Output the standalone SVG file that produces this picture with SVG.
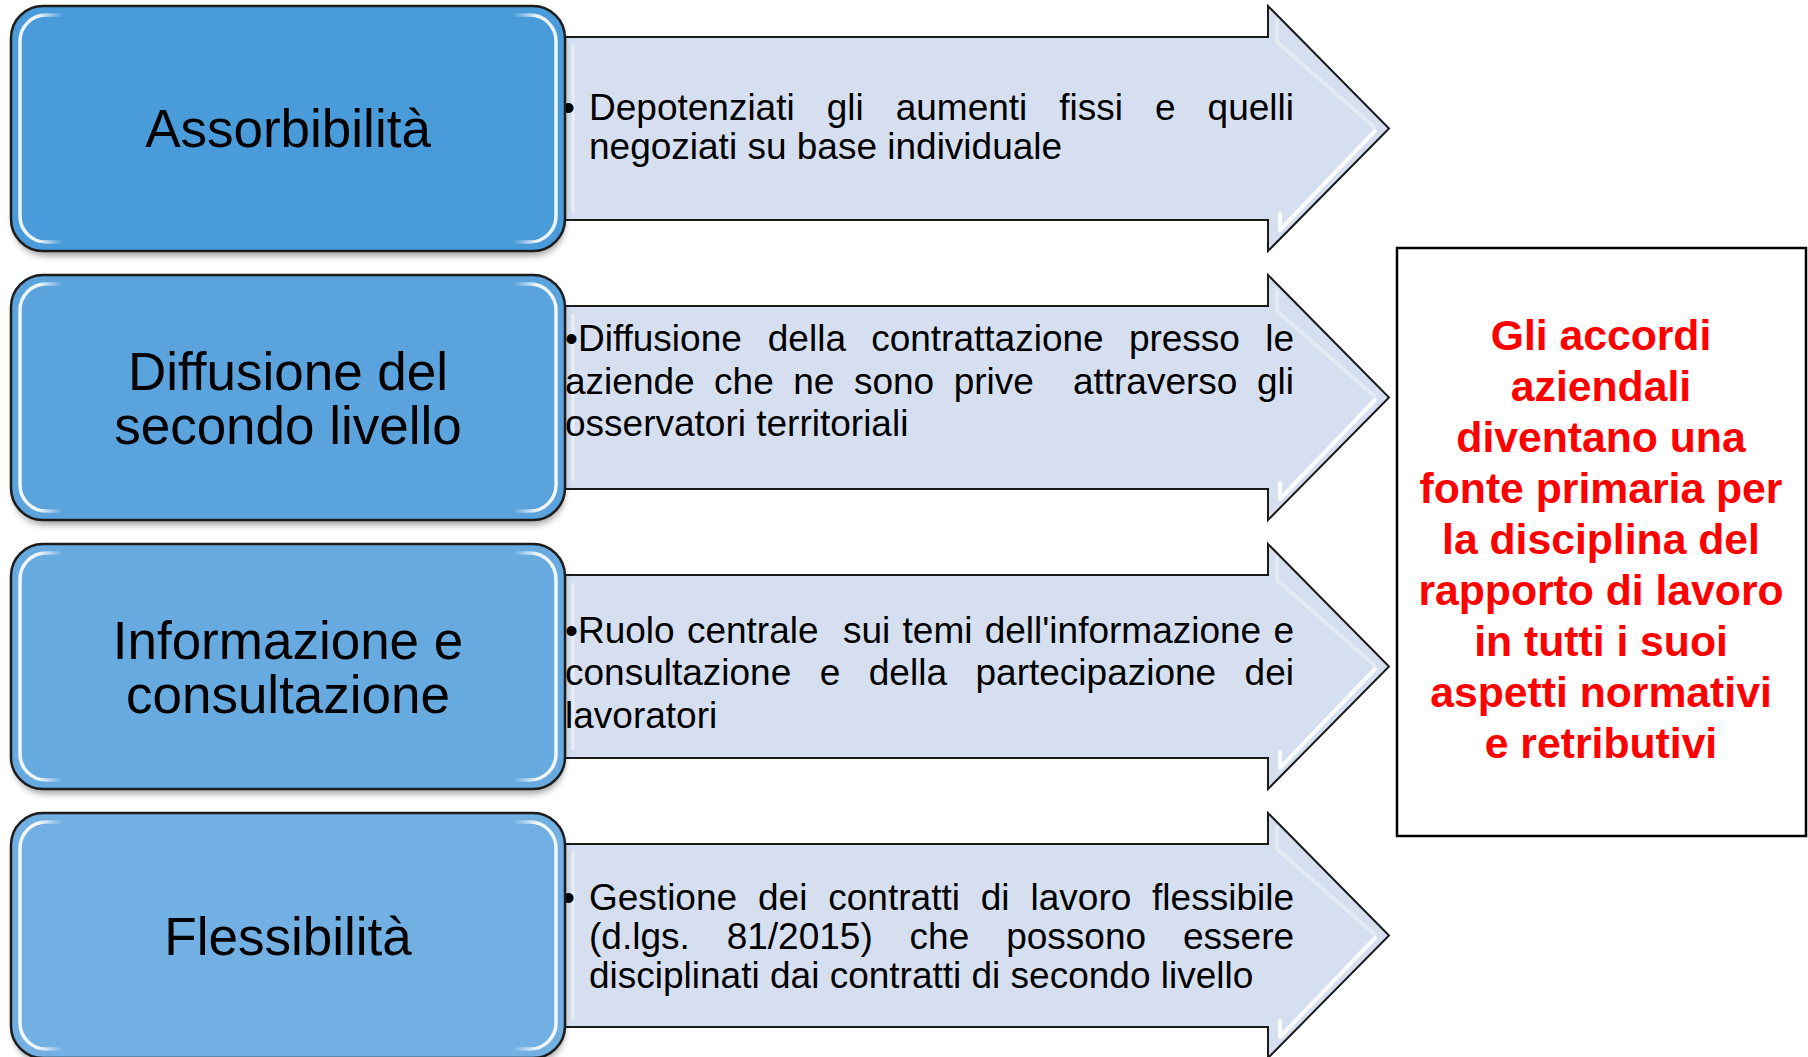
<svg xmlns="http://www.w3.org/2000/svg" width="1808" height="1057" viewBox="0 0 1808 1057">
<defs>
<style>
.arr{fill:#D5DFEF;stroke:#1a1a1a;stroke-width:2}
.ahl{fill:none;stroke:#ffffff;stroke-width:4;stroke-linejoin:round;stroke-linecap:round}
.box{stroke:#1c1c1c;stroke-width:2.5}
.bhl{fill:none;stroke:url(#hl);stroke-width:3.5}
.shd{fill:#000;fill-opacity:0.35;filter:url(#blur)}
.lbl{font-family:"Liberation Sans",Arial,sans-serif;font-size:53px;fill:#000;text-anchor:middle}
.txt{font-family:"Liberation Sans",Arial,sans-serif;font-size:37px;fill:#000}
.red{font-family:"Liberation Sans",Arial,sans-serif;font-weight:bold;font-size:42.7px;fill:#FF0000;text-anchor:middle}
</style>
<linearGradient id="hl" x1="0" y1="0" x2="1" y2="0">
<stop offset="0" stop-color="#fff" stop-opacity="0.9"/>
<stop offset="0.035" stop-color="#fff" stop-opacity="0.9"/>
<stop offset="0.08" stop-color="#fff" stop-opacity="0"/>
<stop offset="0.92" stop-color="#fff" stop-opacity="0"/>
<stop offset="0.965" stop-color="#fff" stop-opacity="0.9"/>
<stop offset="1" stop-color="#fff" stop-opacity="0.9"/>
</linearGradient>
<filter id="blur" x="-10%" y="-10%" width="120%" height="130%"><feGaussianBlur stdDeviation="3"/></filter>
</defs>
<rect width="1808" height="1057" fill="#ffffff"/>

<g id="connectors"></g>

<!-- Arrows -->
<g id="arrow-assorbibilita">
<path class="arr" d="M540,37 H1268 V6 L1389,128.5 L1268,251 V220 H540 Z"/>
<path class="ahl" stroke-opacity="0.35" d="M1277,20 V42 L1374,127"/>
<path class="ahl" stroke-opacity="0.9" d="M1375,131 L1280,230 V214"/>
<line x1="573" y1="45" x2="573" y2="212" stroke="#fff" stroke-opacity="0.5" stroke-width="3"/>
<text class="txt"><tspan x="562" y="120">•</tspan><tspan x="589" y="120">Depotenziati</tspan><tspan x="826.7" y="120">gli</tspan><tspan x="895.7" y="120">aumenti</tspan><tspan x="1059.3" y="120">fissi</tspan><tspan x="1155" y="120">e</tspan><tspan x="1207.6" y="120">quelli</tspan><tspan x="589" y="159">negoziati su base individuale</tspan></text>
</g>

<g id="arrow-diffusione">
<path class="arr" d="M540,306 H1268 V275 L1389,397.5 L1268,520 V489 H540 Z"/>
<path class="ahl" stroke-opacity="0.35" d="M1277,289 V311 L1374,396"/>
<path class="ahl" stroke-opacity="0.9" d="M1375,400 L1280,499 V483"/>
<line x1="573" y1="314" x2="573" y2="481" stroke="#fff" stroke-opacity="0.5" stroke-width="3"/>
<text class="txt"><tspan x="565" y="351">•Diffusione</tspan><tspan x="767.8" y="351">della</tspan><tspan x="871.2" y="351">contrattazione</tspan><tspan x="1128.9" y="351">presso</tspan><tspan x="1265.2" y="351">le</tspan><tspan x="565" y="393.5">aziende</tspan><tspan x="714.1" y="393.5">che</tspan><tspan x="793.3" y="393.5">ne</tspan><tspan x="853.9" y="393.5">sono</tspan><tspan x="953.7" y="393.5">prive</tspan><tspan x="1072.9" y="393.5">attraverso</tspan><tspan x="1257" y="393.5">gli</tspan><tspan x="565" y="436">osservatori territoriali</tspan></text>
</g>

<g id="arrow-informazione">
<path class="arr" d="M540,575 H1268 V544 L1389,666.5 L1268,789 V758 H540 Z"/>
<path class="ahl" stroke-opacity="0.35" d="M1277,558 V580 L1374,665"/>
<path class="ahl" stroke-opacity="0.9" d="M1375,669 L1280,768 V752"/>
<line x1="573" y1="583" x2="573" y2="750" stroke="#fff" stroke-opacity="0.5" stroke-width="3"/>
<text class="txt"><tspan x="565" y="643">•Ruolo</tspan><tspan x="686.9" y="643">centrale</tspan><tspan x="843" y="643">sui</tspan><tspan x="902.6" y="643">temi</tspan><tspan x="984.7" y="643">dell'informazione</tspan><tspan x="1273.4" y="643">e</tspan><tspan x="565" y="685">consultazione</tspan><tspan x="819.7" y="685">e</tspan><tspan x="868.8" y="685">della</tspan><tspan x="975.5" y="685">partecipazione</tspan><tspan x="1244.6" y="685">dei</tspan><tspan x="565" y="728">lavoratori</tspan></text>
</g>

<g id="arrow-flessibilita">
<path class="arr" d="M540,844 H1268 V813 L1389,935.5 L1268,1058 V1027 H540 Z"/>
<path class="ahl" stroke-opacity="0.35" d="M1277,827 V849 L1374,934"/>
<path class="ahl" stroke-opacity="0.9" d="M1375,938 L1280,1037 V1021"/>
<line x1="573" y1="852" x2="573" y2="1019" stroke="#fff" stroke-opacity="0.5" stroke-width="3"/>
<text class="txt"><tspan x="562" y="910">•</tspan><tspan x="589" y="910">Gestione</tspan><tspan x="758" y="910">dei</tspan><tspan x="828.3" y="910">contratti</tspan><tspan x="980.8" y="910">di</tspan><tspan x="1030.5" y="910">lavoro</tspan><tspan x="1152.1" y="910">flessibile</tspan><tspan x="589" y="949">(d.lgs.</tspan><tspan x="726.7" y="949">81/2015)</tspan><tspan x="909.6" y="949">che</tspan><tspan x="1006.2" y="949">possono</tspan><tspan x="1183" y="949">essere</tspan><tspan x="589" y="988">disciplinati dai contratti di secondo livello</tspan></text>
</g>

<!-- Left boxes -->
<g id="node-assorbibilita">
<rect class="shd" x="13" y="11" width="552" height="245" rx="32"/>
<rect class="box" x="11" y="6" width="554" height="245" rx="32" fill="#4A9BDA"/>
<rect class="bhl" x="20" y="15" width="536" height="227" rx="26"/>
<text class="lbl" x="288" y="147">Assorbibilità</text>
</g>

<g id="node-diffusione">
<rect class="shd" x="13" y="280" width="552" height="245" rx="32"/>
<rect class="box" x="11" y="275" width="554" height="245" rx="32" fill="#5BA3DD"/>
<rect class="bhl" x="20" y="284" width="536" height="227" rx="26"/>
<text class="lbl" x="288" y="390">Diffusione del</text>
<text class="lbl" x="288" y="444">secondo livello</text>
</g>

<g id="node-informazione">
<rect class="shd" x="13" y="549" width="552" height="245" rx="32"/>
<rect class="box" x="11" y="544" width="554" height="245" rx="32" fill="#66AAE0"/>
<rect class="bhl" x="20" y="553" width="536" height="227" rx="26"/>
<text class="lbl" x="288" y="659">Informazione e</text>
<text class="lbl" x="288" y="713">consultazione</text>
</g>

<g id="node-flessibilita">
<rect class="shd" x="13" y="818" width="552" height="245" rx="32"/>
<rect class="box" x="11" y="813" width="554" height="245" rx="32" fill="#72B0E3"/>
<rect class="bhl" x="20" y="822" width="536" height="227" rx="26"/>
<text class="lbl" x="288" y="954.5">Flessibilità</text>
</g>

<!-- Right box -->
<g id="node-conclusione">
<rect x="1397" y="248" width="409" height="588" fill="#ffffff" stroke="#000" stroke-width="2.5"/>
<text class="red"><tspan x="1601" y="349.5">Gli accordi</tspan><tspan x="1601" y="400.6">aziendali</tspan><tspan x="1601" y="451.7">diventano una</tspan><tspan x="1601" y="502.8">fonte primaria per</tspan><tspan x="1601" y="553.9">la disciplina del</tspan><tspan x="1601" y="605">rapporto di lavoro</tspan><tspan x="1601" y="656.1">in tutti i suoi</tspan><tspan x="1601" y="707.2">aspetti normativi</tspan><tspan x="1601" y="758.3">e retributivi</tspan></text>
</g>
</svg>
